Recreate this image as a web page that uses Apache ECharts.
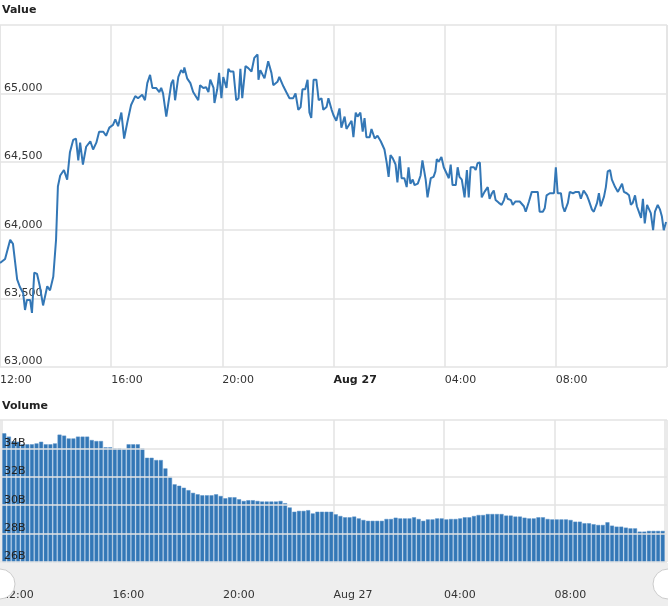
<!DOCTYPE html>
<html><head><meta charset="utf-8">
<script src="https://cdn.jsdelivr.net/npm/echarts@6/dist/echarts.min.js"></script>
<style>html,body{margin:0;padding:0;background:#fff}#c{width:668px;height:612px}</style>
</head><body><div id="c"></div>
<script>
// minutes after Aug 26 12:00
const priceMinutes = [0,11,22,28,37,43,50,54,58,65,69,74,80,86,93,102,108,115,121,125,130,138,145,151,158,164,169,173,179,186,195,201,208,214,223,229,236,244,249,255,262,268,275,283,292,298,307,313,318,324,329,337,344,348,352,359,363,370,374,378,385,391,396,398,404,411,417,428,432,439,445,450,454,461,463,469,473,478,482,489,493,497,504,510,515,519,523,530,536,543,549,556,558,562,566,571,579,586,590,599,603,612,618,625,633,638,644,649,653,659,664,668,672,677,683,688,694,698,705,709,716,720,726,733,737,744,748,759,763,768,772,778,783,787,791,798,802,809,815,822,830,835,839,843,848,854,858,863,867,873,878,882,886,891,895,902,908,912,919,923,930,936,940,943,947,953,958,962,969,973,977,984,988,992,997,1003,1008,1012,1016,1023,1027,1031,1036,1040,1046,1053,1057,1062,1066,1070,1077,1083,1088,1092,1096,1103,1107,1113,1122,1131,1135,1142,1148,1161,1165,1172,1176,1180,1187,1196,1200,1204,1211,1215,1219,1226,1230,1237,1243,1250,1254,1260,1267,1271,1278,1282,1289,1293,1297,1304,1308,1312,1317,1321,1328,1334,1338,1343,1347,1353,1358,1362,1366,1371,1375,1379,1384,1388,1392,1397,1401,1405,1410,1414,1420,1425,1429,1433,1438];
const priceValues = [63760,63790,63930,63900,63640,63585,63540,63417,63490,63490,63395,63690,63680,63590,63450,63590,63560,63660,63930,64320,64400,64440,64370,64570,64660,64670,64510,64640,64480,64610,64650,64590,64640,64720,64720,64690,64750,64770,64810,64760,64860,64670,64790,64915,64980,64965,64990,64950,65075,65135,65040,65040,65010,65040,65000,64830,64840,65075,65100,64950,65120,65170,65150,65190,65110,65075,65010,64950,65060,65040,65045,65010,65100,65040,64930,65030,65150,64965,65120,65040,65180,65160,65160,64950,64965,65180,64965,65200,65185,65160,65260,65285,65100,65170,65160,65110,65235,65150,65060,65085,65120,65050,65010,64965,64965,65000,64880,64900,65030,65030,65100,64860,64820,65100,65100,64950,64965,64880,64900,64965,64880,64840,64800,64890,64750,64830,64740,64800,64680,64860,64830,64860,64720,64820,64680,64680,64740,64670,64690,64650,64590,64490,64390,64550,64525,64480,64350,64540,64380,64380,64315,64460,64340,64370,64330,64340,64400,64510,64370,64240,64380,64390,64430,64520,64500,64535,64460,64460,64380,64480,64330,64330,64460,64390,64370,64240,64440,64240,64460,64460,64440,64490,64495,64240,64280,64315,64230,64270,64290,64220,64200,64185,64220,64270,64230,64220,64185,64210,64210,64175,64135,64210,64280,64280,64135,64135,64160,64255,64270,64270,64460,64270,64270,64175,64135,64200,64280,64270,64280,64280,64230,64290,64255,64220,64150,64135,64200,64270,64175,64245,64315,64430,64440,64370,64315,64280,64290,64340,64280,64270,64255,64185,64200,64255,64175,64175,64090,64230,64050,64185,64175,64125,64000,64135,64185,64150,64100,64000,64060];
// 10-minute volume buckets (billions)
const volumeValues = [35.06,34.83,34.5,34.47,34.29,34.29,34.29,34.35,34.47,34.29,34.29,34.35,34.97,34.9,34.7,34.7,34.83,34.83,34.83,34.59,34.52,34.52,34.08,34.08,34.0,34.0,33.96,34.29,34.29,34.29,34.0,33.34,33.34,33.18,33.18,32.59,32.0,31.47,31.37,31.23,31.06,30.87,30.77,30.7,30.7,30.7,30.77,30.65,30.49,30.56,30.56,30.42,30.3,30.35,30.35,30.3,30.26,30.26,30.26,30.26,30.3,30.14,29.84,29.54,29.6,29.6,29.65,29.42,29.54,29.54,29.54,29.54,29.36,29.24,29.15,29.15,29.2,29.07,28.96,28.9,28.9,28.9,28.9,29.03,29.03,29.12,29.07,29.07,29.07,29.15,29.03,28.9,29.0,29.0,29.07,29.07,29.0,29.03,29.03,29.07,29.15,29.15,29.24,29.31,29.31,29.38,29.38,29.38,29.38,29.27,29.27,29.2,29.2,29.12,29.07,29.07,29.15,29.15,29.03,29.0,29.0,29.0,29.0,28.96,28.84,28.84,28.73,28.73,28.66,28.61,28.61,28.8,28.56,28.49,28.49,28.42,28.37,28.37,28.14,28.14,28.19,28.19,28.19,28.19];

const base = new Date(2021,7,26,12,0,0).getTime();
const MIN = 60000;
const SIX = 6*60*MIN;
const priceData = priceMinutes.map((m,i)=>[base+m*MIN, priceValues[i]]);
const volData = volumeValues.map((v,i)=>[base+(i*10+5)*MIN, v*1e9]);
const font = '"DejaVu Sans", Verdana, sans-serif';
const fmtTime = v => { const d=new Date(v); const h=d.getHours();
  if(h===0) return '{b|Aug 27}'; return String(h).padStart(2,'0')+':00'; };
const xCommon = {
  type:'time', min:base, max:base+4*SIX, interval:SIX, minInterval:SIX, maxInterval:SIX,
  axisLine:{show:false}, axisTick:{show:false},
  splitLine:{show:true,lineStyle:{color:'#e3e3e3',width:1.5}},
};
const chart = echarts.init(document.getElementById('c'));
chart.setOption({
  animation:false,
  textStyle:{fontFamily:font},
  graphic:[
    {type:'text',left:2,top:5,style:{text:'Value',font:'bold 11px '+font,fill:'#222'}},
    {type:'text',left:2,top:401,style:{text:'Volume',font:'bold 11px '+font,fill:'#222'}},
    {type:'rect',shape:{x:0,y:563,width:668,height:43},style:{fill:'#eeeeee'},z:-1},
    {type:'circle',shape:{cx:0,cy:584,r:15},style:{fill:'#fff',stroke:'#ccc'},z:10},
    {type:'circle',shape:{cx:668,cy:584,r:15},style:{fill:'#fff',stroke:'#ccc'},z:10}
  ],
  grid:[{left:0,right:1,top:25,height:342,containLabel:false,outerBoundsMode:'none'},
        {left:0,right:1,top:420,height:142,containLabel:false,outerBoundsMode:'none'}],
  xAxis:[
    Object.assign({},xCommon,{gridIndex:0,
      axisLabel:{formatter:fmtTime,align:'left',color:'#333',fontSize:11,margin:8,fontFamily:font,showMaxLabel:false,
        rich:{b:{fontWeight:'bold',color:'#222',fontSize:11,fontFamily:font}}}}),
    Object.assign({},xCommon,{gridIndex:1,
      axisLabel:{formatter:fmtTime,align:'left',color:'#333',fontSize:11,margin:28,fontFamily:font,showMaxLabel:false,
        rich:{b:{color:'#333',fontSize:11,fontFamily:font}}}})
  ],
  yAxis:[
    {gridIndex:0,type:'value',min:63000,max:65500,interval:500,
     axisLine:{show:false},axisTick:{show:false},
     splitLine:{lineStyle:{color:'#e3e3e3',width:1.5}},
     axisLabel:{inside:true,showMaxLabel:false,verticalAlign:'bottom',margin:4,color:'#333',fontSize:11,fontFamily:font,
       formatter:v=>v.toLocaleString('en-US')}},
    {gridIndex:1,type:'value',min:26e9,max:36e9,interval:2e9,
     axisLine:{show:false},axisTick:{show:false},
     splitLine:{lineStyle:{color:'#e3e3e3',width:1.5}},
     axisLabel:{inside:true,showMaxLabel:false,verticalAlign:'bottom',margin:4,color:'#222',fontSize:11,fontFamily:font,
       formatter:v=>(v/1e9)+'B'}, z:5}
  ],
  series:[
    {type:'line',xAxisIndex:0,yAxisIndex:0,data:priceData,showSymbol:false,
     lineStyle:{color:'#3377b6',width:2}},
    {type:'bar',xAxisIndex:1,yAxisIndex:1,data:volData,barWidth:4,
     itemStyle:{color:'#3377b6',borderColor:'#5b93c9',borderWidth:0.5}}
  ]
});
</script></body></html>
